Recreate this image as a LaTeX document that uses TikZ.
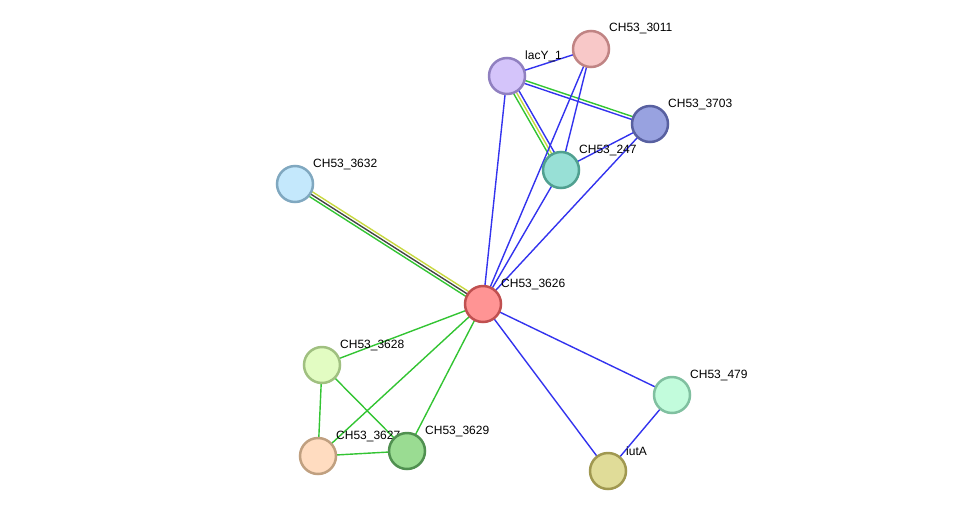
\documentclass[tikz,border=0pt]{standalone}
\usepackage{fontspec}
\setmainfont{Liberation Sans}
\usetikzlibrary{calc,backgrounds}
\definecolor{eblue}{HTML}{3333EE}
\definecolor{egreen}{HTML}{33C433}
\definecolor{eyellow}{HTML}{C8D840}
\definecolor{egray}{HTML}{444444}
\definecolor{fA}{HTML}{D4C4FA}\definecolor{dA}{HTML}{9080C0}
\definecolor{fB}{HTML}{F8C8C8}\definecolor{dB}{HTML}{C08484}
\definecolor{fC}{HTML}{98A2E0}\definecolor{dC}{HTML}{5860A0}
\definecolor{fD}{HTML}{98E0D6}\definecolor{dD}{HTML}{50A090}
\definecolor{fE}{HTML}{C4E8FC}\definecolor{dE}{HTML}{80A8C0}
\definecolor{fF}{HTML}{FF9494}\definecolor{dF}{HTML}{C05050}
\definecolor{fG}{HTML}{E2FCC2}\definecolor{dG}{HTML}{A0C080}
\definecolor{fH}{HTML}{FFDCC0}\definecolor{dH}{HTML}{C0A080}
\definecolor{fI}{HTML}{9ADC92}\definecolor{dI}{HTML}{509050}
\definecolor{fJ}{HTML}{C2FCDC}\definecolor{dJ}{HTML}{80C0A0}
\definecolor{fK}{HTML}{E0DC98}\definecolor{dK}{HTML}{A09850}
\newcommand\pedge[4]{\draw[#4] ($(#1)!#3!90:(#2)$) -- ($(#2)!#3!-90:(#1)$);}
\newcommand\protnode[6]{\node[prot,fill=#5,draw=#6] (#1) at (#2,#3) {};
  \node[lbl] (#1l) at (#2+18,#3-20) {#4};}
\begin{document}
\begin{tikzpicture}[x=1pt,y=-1pt,
  prot/.style={circle,minimum size=36pt,inner sep=0pt,line width=2.5pt},
  lbl/.style={anchor=west,inner sep=0pt,font=\fontsize{12}{14}\selectfont},
  edge/.style={line width=1.4pt}]
\useasboundingbox (0,0) rectangle (976,517);
\protnode{lacy}{507}{76}{lacY\_1}{fA}{dA}
\protnode{s3011}{591}{49}{CH53\_3011}{fB}{dB}
\protnode{s3703}{650}{124}{CH53\_3703}{fC}{dC}
\protnode{s247}{561}{170}{CH53\_247}{fD}{dD}
\protnode{s3632}{295}{184}{CH53\_3632}{fE}{dE}
\protnode{s3626}{483}{304}{CH53\_3626}{fF}{dF}
\protnode{s3628}{322}{365}{CH53\_3628}{fG}{dG}
\protnode{s3627}{318}{456}{CH53\_3627}{fH}{dH}
\protnode{s3629}{407}{451}{CH53\_3629}{fI}{dI}
\protnode{s479}{672}{395}{CH53\_479}{fJ}{dJ}
\protnode{iuta}{608}{471}{iutA}{fK}{dK}
\begin{pgfonlayer}{background}
\draw[edge,eblue] (lacy.center) -- (s3011.center);
\pedge{lacy}{s3703}{1.5pt}{edge,egreen}
\pedge{lacy}{s3703}{-1.5pt}{edge,eblue}
\pedge{lacy}{s247}{-3pt}{edge,egreen}
\pedge{lacy}{s247}{0pt}{edge,eyellow}
\pedge{lacy}{s247}{3pt}{edge,eblue}
\draw[edge,eblue] (lacy.center) -- (s3626.center);
\draw[edge,eblue] (s3011.center) -- (s247.center);
\draw[edge,eblue] (s3011.center) -- (s3626.center);
\draw[edge,eblue] (s3703.center) -- (s247.center);
\draw[edge,eblue] (s3703.center) -- (s3626.center);
\draw[edge,eblue] (s247.center) -- (s3626.center);
\pedge{s3632}{s3626}{2.8pt}{edge,eyellow}
\pedge{s3632}{s3626}{0pt}{edge,egray}
\pedge{s3632}{s3626}{-2.8pt}{edge,egreen}
\draw[edge,egreen] (s3626.center) -- (s3628.center);
\draw[edge,egreen] (s3626.center) -- (s3627.center);
\draw[edge,egreen] (s3626.center) -- (s3629.center);
\draw[edge,egreen] (s3628.center) -- (s3627.center);
\draw[edge,egreen] (s3628.center) -- (s3629.center);
\draw[edge,egreen] (s3627.center) -- (s3629.center);
\draw[edge,eblue] (s3626.center) -- (s479.center);
\draw[edge,eblue] (s3626.center) -- (iuta.center);
\draw[edge,eblue] (s479.center) -- (iuta.center);
\end{pgfonlayer}
\end{tikzpicture}
\end{document}
